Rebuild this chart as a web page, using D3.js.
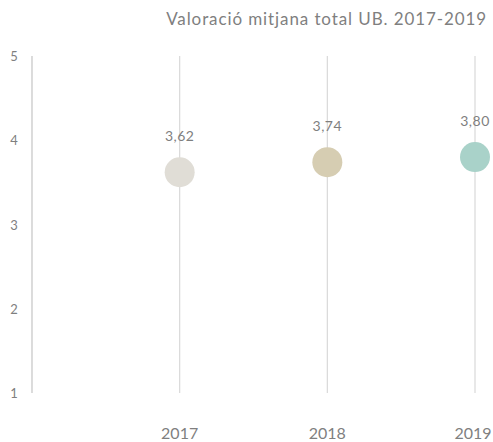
<!DOCTYPE html>
<html>
<head>
<meta charset="utf-8">
<script src="https://cdn.jsdelivr.net/npm/d3@7"></script>
<style>
  body { margin: 0; background: #fff; }
  text { font-family: "Lato", "Noto Sans", sans-serif; fill: #7f7f7f; }
</style>
</head>
<body>
<div id="chart"></div>
<script>
// data
const years = [2017, 2018, 2019];
const scores = [3.62, 3.74, 3.80];
const colors = ["#e0ddd6", "#d6cdb2", "#a9d2c9"];
const yTicks = [1, 2, 3, 4, 5];
const title = "Valoració mitjana total UB. 2017-2019";

const width = 493;
const height = 442;

const svg = d3.select("#chart")
  .append("svg")
  .attr("width", width)
  .attr("height", height);

// scales: axis line sits one slot left of the first year
const x = d3.scaleLinear().domain([2016, 2019]).range([32, 475]);
const y = d3.scaleLinear().domain([1, 5]).range([393, 56]);

// title
svg.append("text")
  .attr("x", 487)
  .attr("y", 25)
  .attr("text-anchor", "end")
  .attr("font-size", "17px")
  .attr("letter-spacing", "0.9px")
  .text(title);

// y axis line + labels
svg.append("line")
  .attr("x1", x(2016)).attr("x2", x(2016))
  .attr("y1", y(5)).attr("y2", y(1))
  .attr("stroke", "#c4c4c4")
  .attr("stroke-width", 1.2);

svg.selectAll(".ytick")
  .data(yTicks)
  .enter()
  .append("text")
    .attr("class", "ytick")
    .attr("x", 14)
    .attr("y", d => y(d) + 5)
    .attr("text-anchor", "middle")
    .attr("font-size", "13px")
    .text(d => d);

// vertical guide lines per year
svg.selectAll(".guide")
  .data(years)
  .enter()
  .append("line")
    .attr("class", "guide")
    .attr("x1", d => x(d)).attr("x2", d => x(d))
    .attr("y1", y(5)).attr("y2", y(1))
    .attr("stroke", "#d9d9d9")
    .attr("stroke-width", 1.2);

// dots
svg.selectAll(".dot")
  .data(years)
  .enter()
  .append("circle")
    .attr("class", "dot")
    .attr("cx", d => x(d))
    .attr("cy", (d, i) => y(scores[i]))
    .attr("r", 15)
    .attr("fill", (d, i) => colors[i]);

// value labels
svg.selectAll(".val")
  .data(years)
  .enter()
  .append("text")
    .attr("class", "val")
    .attr("x", d => x(d))
    .attr("y", (d, i) => y(scores[i]) - 31)
    .attr("text-anchor", "middle")
    .attr("font-size", "14px")
    .attr("letter-spacing", "0.5px")
    .text((d, i) => d3.format(".2f")(scores[i]).replace(".", ","));

// year labels (keep the last one inside the frame)
svg.selectAll(".year")
  .data(years)
  .enter()
  .append("text")
    .attr("class", "year")
    .attr("x", d => Math.min(x(d), width - 20))
    .attr("y", 439)
    .attr("text-anchor", "middle")
    .attr("font-size", "16px")
    .text(d => d);
</script>
</body>
</html>
